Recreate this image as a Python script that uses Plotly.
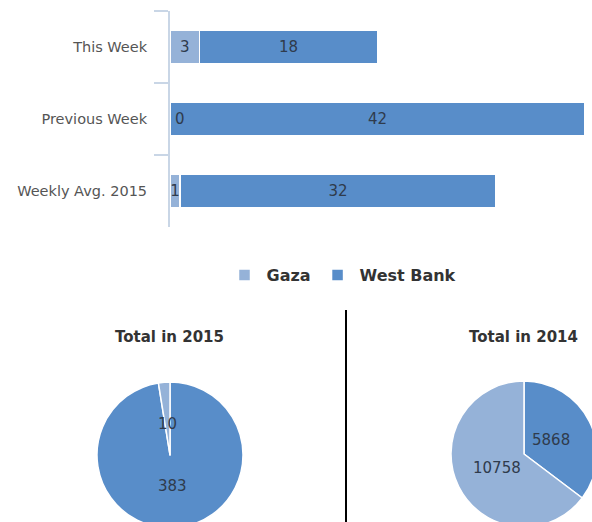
import math
import plotly.graph_objects as go

W, H = 600, 532  # slightly larger than the viewport so the pies can bleed past the edges

categories = ["This Week", "Previous Week", "Weekly Avg. 2015"]
gaza_vals = [3, 0, 1]
wb_vals = [18, 42, 32]
series_names = ["Gaza", "West Bank"]
pie_2015 = [383, 10]      # West Bank, Gaza
pie_2014 = [5868, 10758]  # West Bank, Gaza
pie_titles = ["Total in 2015", "Total in 2014"]

C_GAZA = "#95B2D8"
C_WB = "#588DC9"
TXT = "#2F3B4C"
FONT = "DejaVu Sans"

def px_x(p):
    return p / W

def px_y(p):
    return 1 - p / H

fig = go.Figure()

for name, vals, col in [(series_names[0], gaza_vals, C_GAZA), (series_names[1], wb_vals, C_WB)]:
    fig.add_trace(go.Bar(
        y=categories, x=vals, name=name, orientation="h",
        marker=dict(color=col, line=dict(color="white", width=1.5)),
        text=[str(v) for v in vals], texttemplate="%{text}", textposition="inside",
        insidetextanchor="middle", constraintext="none",
        textfont=dict(family=FONT, size=15, color=TXT),
        xaxis="x", yaxis="y", hoverinfo="x+name",
    ))

# label for zero-length bars
for cat, v in zip(categories, gaza_vals):
    if v == 0:
        fig.add_annotation(x=0, y=cat, xref="x", yref="y", text=str(v),
                           showarrow=False, xanchor="left", xshift=3,
                           font=dict(family=FONT, size=15, color=TXT))

R = 73
pie_centers = [(170, 455), (524, 454)]
for vals, (cx, cy) in zip([pie_2015, pie_2014], pie_centers):
    fig.add_trace(go.Pie(
        values=vals, labels=[series_names[1], series_names[0]],
        marker=dict(colors=[C_WB, C_GAZA], line=dict(color="white", width=1.5)),
        sort=False, direction="clockwise", rotation=0,
        textinfo="none",
        domain=dict(x=[px_x(cx - R), px_x(cx + R)], y=[px_y(cy + R), px_y(cy - R)]),
        showlegend=False,
    ))
    # value labels placed at each slice's mid-angle, ~0.42 of the radius
    total = sum(vals)
    cum = 0
    for v in vals:
        mid = (cum + v / 2) / total * 2 * math.pi
        cum += v
        lx = cx + 0.42 * R * math.sin(mid)
        ly = cy - 0.42 * R * math.cos(mid)
        fig.add_annotation(x=px_x(lx), y=px_y(ly), xref="paper", yref="paper",
                           text=str(v), showarrow=False, xanchor="center",
                           yanchor="middle",
                           font=dict(family=FONT, size=15, color=TXT))

for t, xc in zip(pie_titles, [169, 523]):
    fig.add_annotation(x=px_x(xc), y=px_y(337), xref="paper", yref="paper",
                       text=t, showarrow=False, xanchor="center", yanchor="middle",
                       font=dict(family=FONT, size=15, color="#333333", weight="bold"))

fig.add_shape(type="line", xref="paper", yref="paper",
              x0=px_x(346), x1=px_x(346), y0=0, y1=px_y(310),
              line=dict(color="black", width=2))

fig.update_layout(
    width=W, height=H,
    margin=dict(l=0, r=0, t=0, b=0),
    paper_bgcolor="white", plot_bgcolor="white",
    barmode="stack", bargap=0.53,
    xaxis=dict(domain=[px_x(170), px_x(585)], range=[0, 42], visible=False,
               fixedrange=True),
    yaxis=dict(domain=[px_y(227), px_y(11)], type="category",
               categoryorder="array", categoryarray=categories,
               autorange="reversed", showline=True, linecolor="#C9D6E6",
               linewidth=2, ticks="outside", tickson="boundaries",
               ticklen=14, tickcolor="#C9D6E6", tickwidth=2,
               showgrid=False, anchor="x", fixedrange=True,
               tickfont=dict(family=FONT, size=14.5, color="#555555"),
               ticklabelstandoff=18),
    legend=dict(orientation="h", x=px_x(342), xanchor="center",
                y=px_y(275), yanchor="middle",
                font=dict(family=FONT, size=16, color="#333333", weight="bold"),
                itemwidth=34, traceorder="normal"),
    showlegend=True,
    uniformtext=dict(mode="show", minsize=15),
)

fig.write_html(
    "out.html",
    config={"displayModeBar": False},
    post_script="document.body.style.margin='0';document.body.style.overflow='hidden';"
                "document.documentElement.style.overflow='hidden';",
)
